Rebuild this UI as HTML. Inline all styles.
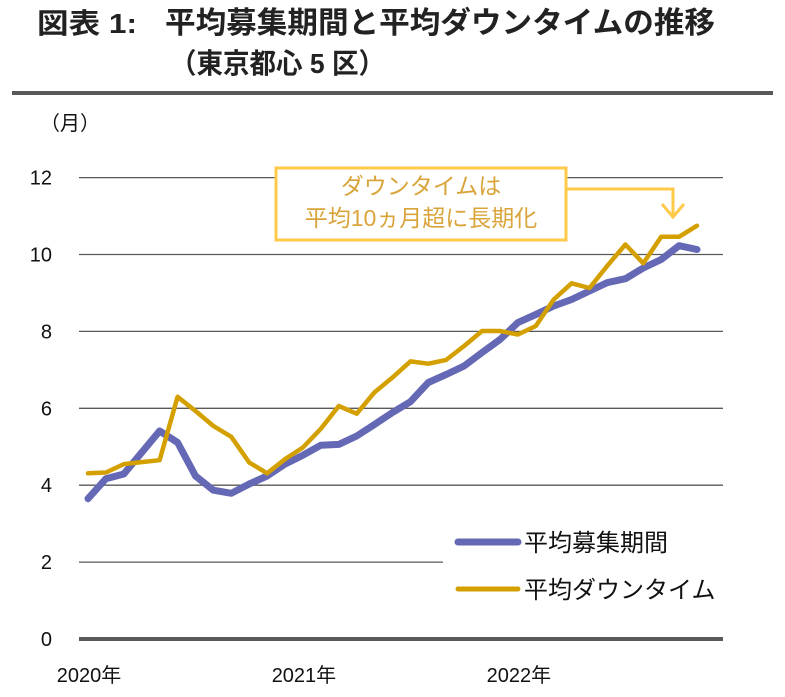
<!DOCTYPE html>
<html><head><meta charset="utf-8">
<style>
body{margin:0;background:#fff;}
svg{display:block;}
</style></head>
<body>
<svg id="chart" width="785" height="697" viewBox="0 0 785 697" xmlns="http://www.w3.org/2000/svg" font-family="'Liberation Sans','Noto Sans CJK JP',sans-serif">
  <text x="37" y="33" font-size="28" font-weight="bold" fill="#222" textLength="100" lengthAdjust="spacingAndGlyphs">図表 1:</text>
  <text x="165" y="33" font-size="30" font-weight="bold" fill="#222" textLength="550" lengthAdjust="spacingAndGlyphs">平均募集期間と平均ダウンタイムの推移</text>
  <text x="170" y="73" font-size="28" font-weight="bold" fill="#222" textLength="215" lengthAdjust="spacingAndGlyphs">（東京都心 5 区）</text>
  <rect x="12" y="91" width="761" height="4" fill="#595959"/>
  <text x="40" y="130" font-size="20" fill="#111">（月）</text>
  <g id="grid"></g>
  <g id="series"></g>
  <g>
    <rect x="276" y="168" width="290" height="72" fill="#fff" stroke="#FFC94A" stroke-width="3"/>
    <text x="421" y="194" font-size="23" fill="#D9A43A" text-anchor="middle">ダウンタイムは</text>
    <text x="421" y="226" font-size="23" fill="#D9A43A" text-anchor="middle">平均10ヵ月超に長期化</text>
    <polyline points="566,189 673,189 673,216" fill="none" stroke="#FFC94A" stroke-width="3"/>
    <polyline points="662,204 673,217 684,204" fill="none" stroke="#FFC94A" stroke-width="3"/>
  </g>
  <g>
    <line x1="458" y1="542" x2="518" y2="542" stroke="#6468B5" stroke-width="7" stroke-linecap="round"/>
    <text x="524" y="551" font-size="24" fill="#111">平均募集期間</text>
    <line x1="458" y1="589" x2="518" y2="589" stroke="#D4A000" stroke-width="5" stroke-linecap="round"/>
    <text x="524" y="598" font-size="24" fill="#111">平均ダウンタイム</text>
  </g>
</svg>
<script>
const yTicks = [0, 2, 4, 6, 8, 10, 12];
const xLabels = ["2020年", "2021年", "2022年"];
const xLabelIdx = [0, 12, 24];
const recruit = [3.65,4.17,4.29,4.85,5.41,5.11,4.24,3.87,3.79,4.03,4.24,4.55,4.78,5.04,5.06,5.28,5.58,5.89,6.17,6.67,6.88,7.10,7.45,7.79,8.23,8.44,8.66,8.83,9.05,9.27,9.37,9.65,9.87,10.23,10.13];
const downtime = [4.31,4.33,4.55,4.60,4.65,6.30,5.93,5.54,5.26,4.59,4.31,4.68,4.98,5.47,6.06,5.86,6.42,6.80,7.22,7.16,7.26,7.62,8.01,8.01,7.92,8.14,8.83,9.25,9.13,9.71,10.26,9.77,10.46,10.46,10.75];

const NS = "http://www.w3.org/2000/svg";
const x0 = 88, x1 = 697, y0 = 639, yPer = 38.45;
const n = recruit.length;
function xs(i){ return x0 + i * (x1 - x0) / (n - 1); }
function ys(v){ return y0 - v * yPer; }
function mk(tag, attrs, parent){ const e = document.createElementNS(NS, tag); for (const k in attrs) e.setAttribute(k, attrs[k]); parent.appendChild(e); return e; }
const grid = document.getElementById("grid");
const series = document.getElementById("series");
yTicks.forEach(t => {
  const y = ys(t);
  if (t === 0) {
    const l = mk("line", {x1:79, x2:723, y1:y, y2:y, stroke:"#595959", "stroke-width":4}, grid);
    
    
  } else {
    const l = mk("line", {x1:79, x2:(t === 2 ? 443 : 723), y1:y, y2:y, stroke:"#595959", "stroke-width":1.3}, grid);
    
    
  }
  const tx = mk("text", {x:52, y:y + 7, "font-size":20, fill:"#111", "text-anchor":"end"}, grid);
  tx.textContent = t;
  
  
});
xLabels.forEach((lab, k) => {
  const tx = mk("text", {x:xs(xLabelIdx[k]) + 1, y:682, "font-size":20, fill:"#111", "text-anchor":"middle"}, grid);
  tx.textContent = lab;
  
  
});
function line(data, color, w, name){
  const pts = data.map((v, i) => xs(i).toFixed(1) + "," + ys(v).toFixed(1)).join(" ");
  const p = mk("polyline", {points:pts, fill:"none", stroke:color, "stroke-width":w, "stroke-linejoin":"round", "stroke-linecap":"round"}, series);
  
  
}
line(recruit, "#6468B5", 7, "series-recruit-period");
line(downtime, "#D4A000", 4.5, "series-downtime");
</script>
</body></html>
